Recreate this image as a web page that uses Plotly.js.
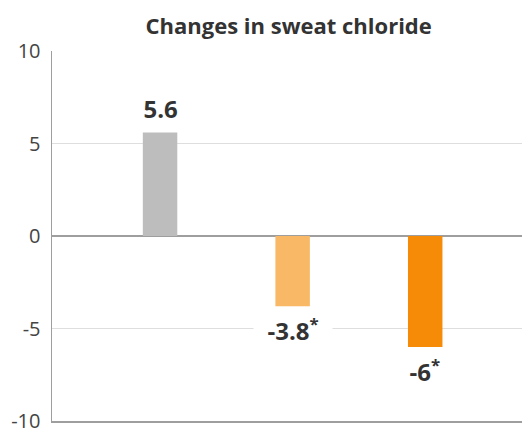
<!DOCTYPE html>
<html>
<head>
<meta charset="utf-8">
<script src="https://cdn.plot.ly/plotly-3.0.1.min.js"></script>
<style>html,body{margin:0;padding:0;background:#fff}#chart{width:522px;height:432px}</style>
</head>
<body>
<div id="chart"></div>
<script>
var categories = ["A", "B", "C"];
var values = [5.6, -3.8, -6];
var labels = ["5.6", "-3.8<sup>*</sup>", "-6<sup>*</sup>"];
var colors = ["#bdbdbd", "#f8b866", "#f68b07"];
var tickVals = [-10, -5, 0, 5, 10];
var tickText = ["-10", "-5", "0", "5", "10"];

var trace = {
  type: "bar",
  x: categories,
  y: values,
  marker: {color: colors},
  width: 0.26,
  hoverinfo: "none"
};

var annotations = values.map(function (v, i) {
  return {
    x: categories[i],
    y: v,
    xref: "x",
    yref: "y",
    text: "&nbsp;&nbsp;" + labels[i] + "&nbsp;&nbsp;",
    showarrow: false,
    yanchor: "middle",
    yshift: v >= 0 ? 24 : -23,
    bgcolor: "#ffffff",
    borderpad: 1,
    font: {family: "Open Sans", size: 24, color: "#333333", weight: "bold"}
  };
});

var layout = {
  width: 522,
  height: 432,
  margin: {l: 52, r: 0, t: 51, b: 11},
  paper_bgcolor: "#ffffff",
  plot_bgcolor: "#ffffff",
  showlegend: false,
  title: {
    text: "<b>Changes in sweat chloride</b>",
    font: {family: "Open Sans", size: 22, color: "#333333"},
    x: 0.553,
    xanchor: "center",
    y: 0.94,
    yanchor: "middle"
  },
  xaxis: {
    type: "category",
    range: [-0.815, 2.73],
    showticklabels: false,
    showgrid: false,
    zeroline: false,
    showline: true,
    linecolor: "#9e9e9e",
    linewidth: 1.5,
    ticks: ""
  },
  yaxis: {
    range: [-10, 10],
    tickvals: tickVals,
    ticktext: tickText,
    ticklabeloverflow: "allow",
    showgrid: true,
    gridcolor: "#dedede",
    gridwidth: 1,
    zeroline: true,
    zerolinecolor: "#9e9e9e",
    zerolinewidth: 1.5,
    showline: true,
    linecolor: "#9e9e9e",
    linewidth: 1.5,
    ticks: "outside",
    ticklen: 6,
    tickcolor: "rgba(0,0,0,0)",
    tickfont: {family: "Open Sans", size: 20, color: "#444444"}
  },
  annotations: annotations
};

Plotly.newPlot("chart", [trace], layout, {displayModeBar: false, staticPlot: true});
</script>
</body>
</html>
